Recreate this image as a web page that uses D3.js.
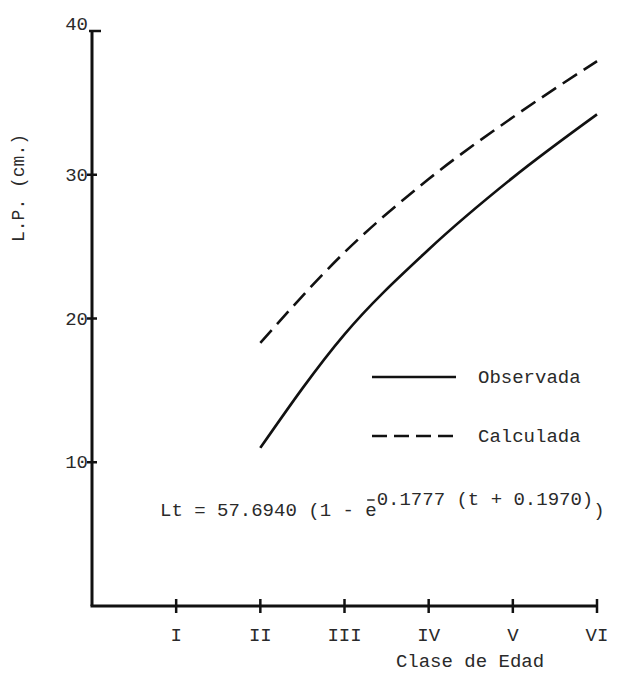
<!DOCTYPE html>
<html lang="es">
<head>
	<meta charset="UTF-8">
	<title>Crecimiento</title>
	<style>
		body { margin: 0; background: #fff; }
		text { font-family: "Liberation Mono", "DejaVu Sans Mono", monospace; fill: #2a2a2a; }
	</style>
</head>
<body>
	<svg width="624" height="678"></svg>

	<script src="https://d3js.org/d3.v7.min.js"></script>
	<script>
		// datos
		var ages = ["I", "II", "III", "IV", "V", "VI"];
		var yTicks = [10, 20, 30, 40];
		var obsAges = [2, 3, 4, 5, 6];
		var observada = [11.0, 18.9, 24.8, 29.8, 34.2];
		var calculada = [18.3, 24.6, 29.7, 34.0, 37.9];
		var legendNames = ["Observada", "Calculada"];

		var svg = d3.select("svg");
		var fs = 19;

		var x = d3.scaleLinear().domain([0, 6]).range([92, 597]);
		var y = d3.scaleLinear().domain([0, 40]).range([606, 31]);

		// ejes
		svg.append("line")
			.attr("x1", x(0)).attr("x2", x(0))
			.attr("y1", y(40)).attr("y2", y(0))
			.attr("stroke", "#111").attr("stroke-width", 3);
		svg.append("line")
			.attr("x1", x(0) - 1.5).attr("x2", x(6))
			.attr("y1", y(0)).attr("y2", y(0))
			.attr("stroke", "#111").attr("stroke-width", 3);

		// marcas eje y
		svg.selectAll(".ytick")
			.data(yTicks)
			.enter()
			.append("line")
			.attr("x1", function(d){ return d == 40 ? x(0) - 3 : x(0) - 5; })
			.attr("x2", function(d){ return d == 40 ? x(0) + 9 : x(0) + 5; })
			.attr("y1", function(d){ return y(d); })
			.attr("y2", function(d){ return y(d); })
			.attr("stroke", "#111").attr("stroke-width", 2.5);

		svg.selectAll(".ylab")
			.data(yTicks)
			.enter()
			.append("text")
			.attr("x", x(0) - 4)
			.attr("y", function(d){ return d == 40 ? y(d) - 1 : y(d) + 6; })
			.attr("text-anchor", "end")
			.attr("font-size", fs)
			.text(function(d){ return d; });

		// marcas eje x
		svg.selectAll(".xtick")
			.data(ages)
			.enter()
			.append("line")
			.attr("x1", function(d,i){ return x(i + 1); })
			.attr("x2", function(d,i){ return x(i + 1); })
			.attr("y1", y(0) - 7)
			.attr("y2", y(0) + 7)
			.attr("stroke", "#111").attr("stroke-width", 2.5);

		svg.selectAll(".xlab")
			.data(ages)
			.enter()
			.append("text")
			.attr("x", function(d,i){ return x(i + 1); })
			.attr("y", 641)
			.attr("text-anchor", "middle")
			.attr("font-size", fs)
			.text(function(d){ return d; });

		svg.append("text")
			.attr("x", 470).attr("y", 667)
			.attr("text-anchor", "middle")
			.attr("font-size", fs)
			.text("Clase de Edad");

		svg.append("text")
			.attr("transform", "translate(24,188) rotate(-90)")
			.attr("text-anchor", "middle")
			.attr("font-size", 18)
			.text("L.P. (cm.)");

		// curvas
		var line = d3.line()
			.x(function(d,i){ return x(obsAges[i]); })
			.y(function(d){ return y(d); })
			.curve(d3.curveMonotoneX);

		svg.append("path")
			.attr("d", line(observada))
			.attr("fill", "none")
			.attr("stroke", "#111")
			.attr("stroke-width", 2.6);

		svg.append("path")
			.attr("d", line(calculada))
			.attr("fill", "none")
			.attr("stroke", "#111")
			.attr("stroke-width", 2.6)
			.attr("stroke-dasharray", "17,8");

		// leyenda
		var legY = [377, 436];
		legendNames.forEach(function(name, i){
			svg.append("line")
				.attr("x1", 372).attr("x2", 456)
				.attr("y1", legY[i]).attr("y2", legY[i])
				.attr("stroke", "#111")
				.attr("stroke-width", 2.6)
				.attr("stroke-dasharray", i == 1 ? "15,7" : null);
			svg.append("text")
				.attr("x", 478).attr("y", legY[i] + 6)
				.attr("font-size", fs)
				.text(name);
		});

		// formula
		var fx = 160, fy = 516;
		var formula = svg.append("text")
			.attr("x", fx).attr("y", fy)
			.attr("font-size", fs);
		formula.append("tspan").text("Lt = 57.6940 (1 - e");
		formula.append("tspan").attr("dy", -11).text("0.1777 (t + 0.1970)");
		formula.append("tspan").attr("dy", 11).text(")");
		var cw = fs * 0.6;
		svg.append("line")
			.attr("x1", fx + 18 * cw + 2).attr("x2", fx + 19 * cw - 2)
			.attr("y1", fy - 16).attr("y2", fy - 16)
			.attr("stroke", "#2a2a2a").attr("stroke-width", 1.5);
	</script>
</body>
</html>
